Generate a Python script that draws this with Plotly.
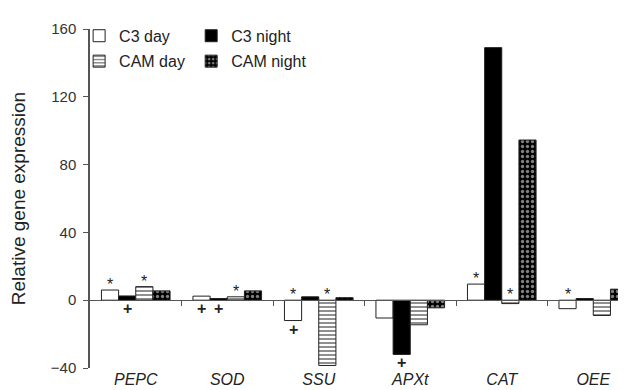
import plotly.graph_objects as go

genes = ["PEPC", "SOD", "SSU", "APXt", "CAT", "OEE"]
series_names = ["C3 day", "C3 night", "CAM day", "CAM night"]
c3_day = [6, 2.4, -12, -10.5, 9.5, -5]
c3_night = [2.5, 1, 2, -32, 149, 1]
cam_day = [8, 2, -38.5, -14.5, -2, -9]
cam_night = [5.5, 5.5, 1.5, -4.5, 94.5, 6.5]
y_ticks = [-40, 0, 40, 80, 120, 160]

# significance marks: (gene index, series index)
star_marks = [(0, 0), (0, 2), (1, 2), (2, 0), (2, 2), (4, 0), (4, 2), (5, 0)]
plus_marks = [(0, 1), (1, 0), (1, 1), (2, 0), (3, 1)]

values = [c3_day, c3_night, cam_day, cam_night]
xs = list(range(len(genes)))

styles = [
    dict(color="white", pattern=dict(shape="")),
    dict(color="black", pattern=dict(shape="")),
    dict(color="white", pattern=dict(shape="-", fgcolor="#222", size=4, solidity=0.5)),
    dict(color="black", pattern=dict(shape=".", fgcolor="white", size=5, solidity=0.35)),
]
legend_ids = ["legend", "legend2", "legend3", "legend4"]
legend_pos = [(-0.02, 1.03), (0.186, 1.03), (-0.02, 0.955), (0.186, 0.955)]

fig = go.Figure()
for name, vals, st, lg in zip(series_names, values, styles, legend_ids):
    fig.add_trace(go.Bar(
        x=xs, y=vals, name=name, legend=lg,
        marker=dict(color=st["color"], pattern=st["pattern"],
                    line=dict(color="#222", width=1)),
    ))

group_frac = 0.75
bw = group_frac / 4
annots = []
for gi, si in star_marks:
    v = values[si][gi]
    annots.append(dict(x=gi - group_frac / 2 + bw * (si + 0.5), y=max(v, 0),
                       text="*", showarrow=False, yanchor="bottom", yshift=-5,
                       font=dict(size=16, color="#222")))
for gi, si in plus_marks:
    v = values[si][gi]
    annots.append(dict(x=gi - group_frac / 2 + bw * (si + 0.5), y=min(v, 0),
                       text="<b>+</b>", showarrow=False, yanchor="top", yshift=2,
                       font=dict(size=16, color="#222")))

legend_layout = {}
for lg, (lx, ly) in zip(legend_ids, legend_pos):
    legend_layout[lg] = dict(orientation="h", x=lx, y=ly, xanchor="left", yanchor="top",
                             bgcolor="rgba(0,0,0,0)", itemwidth=30,
                             font=dict(size=16, color="#222"))

fig.update_layout(
    width=626, height=390,
    margin=dict(l=82, r=0, t=21, b=30),
    paper_bgcolor="white", plot_bgcolor="white",
    barmode="group", bargap=1 - group_frac, bargroupgap=0,
    font=dict(family="Liberation Sans, Arial", size=15, color="#333"),
    annotations=annots,
    xaxis=dict(range=[-0.5, 5.445], tickmode="array", tickvals=xs, ticktext=genes,
               showline=False, ticks="", showgrid=False, zeroline=False,
               tickfont=dict(size=16, color="#222", style="italic"),
               ticklabelstandoff=0),
    xaxis2=dict(overlaying="x", matches="x", anchor="free", position=0.2,
                showline=True, linecolor="#555", linewidth=1,
                tickmode="array", tickvals=[x + 0.5 for x in xs[:-1]],
                ticks="outside", ticklen=5, tickcolor="#555",
                showticklabels=False, showgrid=False, zeroline=False),
    yaxis=dict(range=[-40, 160], tickmode="array", tickvals=y_ticks,
               showline=True, linecolor="#555", linewidth=1.5,
               ticks="outside", ticklen=5, tickcolor="#555",
               showgrid=False, zeroline=False, ticklabelstandoff=4,
               tickfont=dict(size=15, color="#333"),
               title=dict(text="Relative gene expression",
                          font=dict(size=19, color="#222"), standoff=20)),
    **legend_layout,
)
# invisible trace on xaxis2 so it renders
fig.add_trace(go.Scatter(x=[0], y=[0], xaxis="x2", mode="markers",
                         marker=dict(opacity=0), showlegend=False, hoverinfo="skip"))

fig.write_html("out.html")
